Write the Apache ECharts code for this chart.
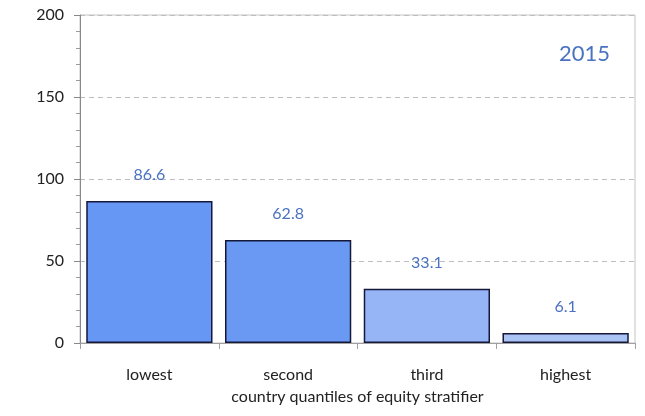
<!DOCTYPE html>
<html>
<head>
<meta charset="utf-8">
<script src="https://cdn.jsdelivr.net/npm/echarts@6/dist/echarts.min.js"></script>
<style>
  html, body { margin: 0; padding: 0; background: #fff; }
  #chart { width: 645px; height: 416px; }
</style>
</head>
<body>
<div id="chart"></div>
<script>
// data
var categories = ['lowest', 'second', 'third', 'highest'];
var values = [86.6, 62.8, 33.1, 6.1];
var barColors = ['#6797f4', '#6999f3', '#95b5f6', '#aac3f5'];
var yTicks = [0, 50, 100, 150, 200];

var chart = echarts.init(document.getElementById('chart'));

var fontFamily = 'Lato, "Open Sans", sans-serif';

var option = {
  backgroundColor: '#fff',
  textStyle: { fontFamily: fontFamily },
  grid: {
    left: 80, right: 10, top: 15, bottom: 73,
    show: true,
    borderColor: '#c4c4c4',
    borderWidth: 1
  },
  graphic: [{
    type: 'text',
    right: 35, top: 43,
    style: { text: '2015', fill: '#4a72c0', font: '22px ' + fontFamily }
  }],
  xAxis: {
    type: 'category',
    data: categories,
    name: 'country quantiles of equity stratifier',
    nameLocation: 'middle',
    nameGap: 46,
    nameTextStyle: { color: '#222', fontSize: 16, fontFamily: fontFamily },
    axisLine: { lineStyle: { color: '#a0a0a0', width: 1 } },
    axisTick: { show: true, length: 6, lineStyle: { color: '#a0a0a0' } },
    axisLabel: { color: '#222', fontSize: 16, margin: 24 }
  },
  yAxis: {
    type: 'value',
    min: yTicks[0],
    max: yTicks[yTicks.length - 1],
    interval: 50,
    axisLine: { show: true, lineStyle: { color: '#888', width: 1 } },
    axisTick: { show: true, length: 6, lineStyle: { color: '#888' } },
    minorTick: { show: true, splitNumber: 5, length: 4, lineStyle: { color: '#999' } },
    axisLabel: { color: '#222', fontSize: 16, margin: 16 },
    splitLine: { show: true, lineStyle: { color: '#bdbdbd', type: [5, 4], width: 1 } }
  },
  series: [{
    type: 'bar',
    barCategoryGap: '9%',
    data: values.map(function (v, i) {
      return {
        value: v,
        itemStyle: { color: barColors[i] }
      };
    }),
    itemStyle: { borderColor: '#15183a', borderWidth: 1.5 },
    label: {
      show: true,
      position: 'top',
      distance: 18,
      color: '#4a72c0',
      fontSize: 16,
      fontFamily: fontFamily
    }
  }]
};

chart.setOption(option);
</script>
</body>
</html>
